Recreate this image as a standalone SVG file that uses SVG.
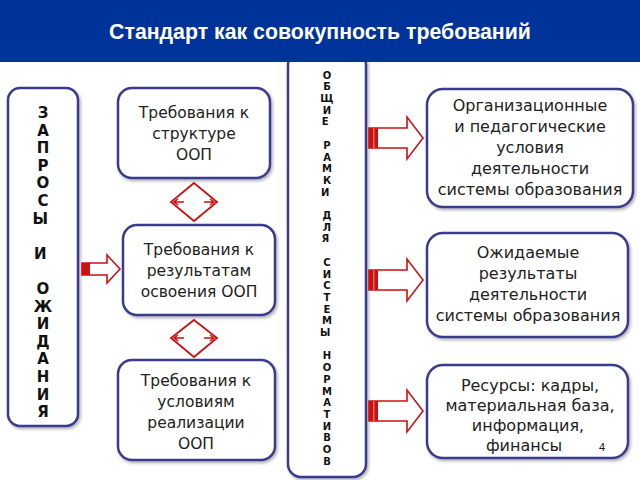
<svg xmlns="http://www.w3.org/2000/svg" width="640" height="480" viewBox="0 0 640 480">
<style>
.box{fill:#fff;stroke:#3a3a8e;stroke-width:2.5;filter:url(#sh)}
.t{font-family:"DejaVu Sans",Verdana,sans-serif;fill:#222;text-anchor:middle}
.m{font-size:15.5px}
.r{font-size:16px}
.v{font-family:"DejaVu Sans",Verdana,sans-serif;font-weight:bold;fill:#111;text-anchor:middle}
.arr{fill:#fff;stroke:#cc1111;stroke-width:1.6;stroke-linejoin:miter}
.tail{fill:#cc1111}
.stripe{fill:#e66}
.dia{fill:#fff;stroke:#cc1111;stroke-width:1.8}
.dl{stroke:#cc1111;stroke-width:1.5;fill:none}
</style>
<defs>
<filter id="sh" x="-10%" y="-10%" width="125%" height="125%">
<feDropShadow dx="1.5" dy="2" stdDeviation="1.5" flood-color="#000" flood-opacity="0.3"/>
</filter>
</defs>
<rect width="640" height="480" fill="#fff"/>

<g id="obshie">
<rect class="box" x="288" y="52" width="78" height="425" rx="13"/>
<text class="v" font-size="10">
<tspan x="327" y="78.6">О</tspan><tspan x="327" y="90.3">Б</tspan><tspan x="327" y="102">Щ</tspan><tspan x="327" y="113.7">И</tspan><tspan x="327" y="125.4">Е</tspan>
<tspan x="327" y="148.8">Р</tspan><tspan x="327" y="160.5">А</tspan><tspan x="327" y="172.2">М</tspan><tspan x="327" y="183.9">К</tspan><tspan x="327" y="195.6">И</tspan>
<tspan x="327" y="219">Д</tspan><tspan x="327" y="230.7">Л</tspan><tspan x="327" y="242.4">Я</tspan>
<tspan x="327" y="265.8">С</tspan><tspan x="327" y="277.5">И</tspan><tspan x="327" y="289.2">С</tspan><tspan x="327" y="300.9">Т</tspan><tspan x="327" y="312.6">Е</tspan><tspan x="327" y="324.3">М</tspan><tspan x="327" y="336">Ы</tspan>
<tspan x="327" y="359.4">Н</tspan><tspan x="327" y="371.1">О</tspan><tspan x="327" y="382.8">Р</tspan><tspan x="327" y="394.5">М</tspan><tspan x="327" y="406.2">А</tspan><tspan x="327" y="417.9">Т</tspan><tspan x="327" y="429.6">И</tspan><tspan x="327" y="441.3">В</tspan><tspan x="327" y="453">О</tspan><tspan x="327" y="464.7">В</tspan>
</text>
</g>

<g id="header">
<rect x="0" y="0" width="640" height="62" fill="#00339a"/>
<text x="320" y="39" font-family="'Liberation Sans',Arial,sans-serif" font-weight="bold" font-size="21.3" fill="#fff" text-anchor="middle">Стандарт как совокупность требований</text>
</g>

<g id="zaprosy">
<rect class="box" x="8" y="88" width="70" height="338" rx="12"/>
<text class="v" font-size="15">
<tspan x="43" y="118">З</tspan><tspan x="43" y="135.6">А</tspan><tspan x="43" y="153.2">П</tspan><tspan x="43" y="170.8">Р</tspan><tspan x="43" y="188.4">О</tspan><tspan x="43" y="206">С</tspan><tspan x="43" y="223.6">Ы</tspan>
<tspan x="43" y="258.8">И</tspan>
<tspan x="43" y="294">О</tspan><tspan x="43" y="311.6">Ж</tspan><tspan x="43" y="329.2">И</tspan><tspan x="43" y="346.8">Д</tspan><tspan x="43" y="364.4">А</tspan><tspan x="43" y="382">Н</tspan><tspan x="43" y="399.6">И</tspan><tspan x="43" y="417.2">Я</tspan>
</text>
</g>

<g id="struktura">
<rect class="box" x="118" y="88" width="152" height="90" rx="14"/>
<text class="t m"><tspan x="194" y="117.5">Требования к</tspan><tspan x="194" y="138.5">структуре</tspan><tspan x="194" y="159.5">ООП</tspan></text>
</g>

<g id="rezultaty">
<rect class="box" x="123" y="225" width="152" height="90" rx="14"/>
<text class="t m"><tspan x="199" y="254.5">Требования к</tspan><tspan x="199" y="275.5">результатам</tspan><tspan x="199" y="296.5">освоения ООП</tspan></text>
</g>

<g id="usloviya">
<rect class="box" x="118" y="360" width="157" height="100" rx="14"/>
<text class="t m"><tspan x="196" y="385.5">Требования к</tspan><tspan x="196" y="406.5">условиям</tspan><tspan x="196" y="427.5">реализации</tspan><tspan x="196" y="448.5">ООП</tspan></text>
</g>

<g id="org">
<rect class="box" x="427" y="89" width="206" height="118" rx="16"/>
<text class="t r"><tspan x="530" y="110.5">Организационные</tspan><tspan x="530" y="131.5">и педагогические</tspan><tspan x="530" y="152.5">условия</tspan><tspan x="530" y="173.5">деятельности</tspan><tspan x="530" y="194.5">системы образования</tspan></text>
</g>

<g id="ozhid">
<rect class="box" x="427" y="233" width="201" height="104" rx="16"/>
<text class="t r"><tspan x="528" y="257.5">Ожидаемые</tspan><tspan x="528" y="278.5">результаты</tspan><tspan x="528" y="299.5">деятельности</tspan><tspan x="528" y="320.5">системы образования</tspan></text>
</g>

<g id="resursy">
<rect class="box" x="427" y="365" width="201" height="93" rx="16"/>
<text class="t r"><tspan x="530" y="390.5">Ресурсы: кадры,</tspan><tspan x="530" y="410.5">материальная база,</tspan><tspan x="528" y="430.5">информация,</tspan><tspan x="524" y="450.5">финансы</tspan></text>
<text x="602" y="451" font-family="'Liberation Sans',Arial,sans-serif" font-size="11" fill="#111" text-anchor="middle">4</text>
</g>

<g id="connectors">
<g id="arrow-left">
<polygon class="arr" points="82,263 107,263 107,255 120,269 107,283 107,275 82,275"/>
<rect class="tail" x="82" y="263" width="8" height="12"/>
</g>
<g id="diamond1">
<polygon class="dia" points="194,183 217,202 194,221 171,202"/>
<path class="dl" d="M184,202 H174 M178,199 L174,202 L178,205 M204,202 H214 M210,199 L214,202 L210,205"/>
</g>
<g id="diamond2">
<polygon class="dia" points="194,320 217,338 194,357 171,338"/>
<path class="dl" d="M184,338 H174 M178,335 L174,338 L178,341 M204,338 H214 M210,335 L214,338 L210,341"/>
</g>
<g id="arrow-r1">
<polygon class="arr" points="369,128 407,128 407,117 423,138 407,159 407,148 369,148"/>
<rect class="tail" x="369" y="128" width="9" height="20"/>
<rect class="stripe" x="373" y="128" width="1.5" height="20"/>
</g>
<g id="arrow-r2">
<polygon class="arr" points="369,270 407,270 407,259 423,280 407,301 407,290 369,290"/>
<rect class="tail" x="369" y="270" width="9" height="20"/>
<rect class="stripe" x="373" y="270" width="1.5" height="20"/>
</g>
<g id="arrow-r3">
<polygon class="arr" points="369,401 407,401 407,390 423,411 407,432 407,421 369,421"/>
<rect class="tail" x="369" y="401" width="9" height="20"/>
<rect class="stripe" x="373" y="401" width="1.5" height="20"/>
</g>
</g>
</svg>
